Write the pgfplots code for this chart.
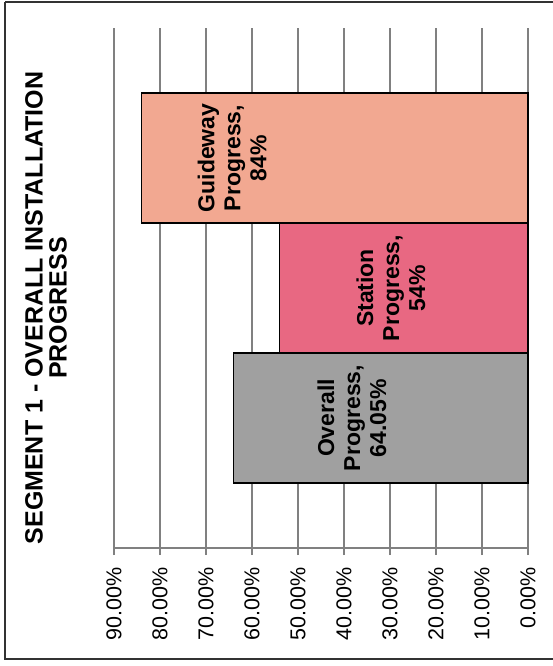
\documentclass[border=0pt]{standalone}
\usepackage{fontspec}
\setmainfont{Liberation Sans}
\usepackage{pgfplots}
\pgfplotsset{compat=1.18}
\definecolor{guide}{RGB}{242,168,145}
\definecolor{station}{RGB}{232,104,130}
\definecolor{overall}{RGB}{160,160,160}
\definecolor{gridc}{RGB}{128,128,128}
\definecolor{framec}{RGB}{50,50,50}
\begin{document}
\begin{tikzpicture}[x=1pt,y=1pt]
\useasboundingbox (0,0) rectangle (553,666);
\draw[framec, line width=2.5pt] (5,664) -- (5,7) -- (560,7);
\draw[framec, line width=2.5pt] (5,664) -- (560,664);
\node[rotate=90, align=center, font=\fontsize{25}{24}\selectfont\bfseries] at (46,358)
  {SEGMENT 1 - OVERALL INSTALLATION\\PROGRESS};
\begin{axis}[
  at={(114pt,118pt)}, anchor=south west,
  scale only axis, width=414pt, height=520pt,
  x dir=reverse,
  xmin=0, xmax=90, ymin=-1, ymax=3,
  axis x line*=bottom, axis y line=none,
  x axis line style={gridc, line width=1.4pt},
  xtick={0,10,...,90}, ytick=\empty,
  tick align=outside, major tick length=7pt,
  xtick style={gridc, line width=1.4pt},
  xmajorgrids, major grid style={gridc, line width=1.4pt},
  /pgf/number format/assume math mode=true,
  xticklabel={\pgfmathprintnumber[fixed,fixed zerofill,precision=2]{\tick}\%},
  xticklabel style={rotate=90, anchor=east, font=\fontsize{21.5}{21}\selectfont},
  xticklabel shift=9pt,
  clip=false,
]
\addplot[xbar, bar shift=0pt, bar width=130pt, fill=overall, draw=black, line width=1.4pt] coordinates {(64.05,0)};
\addplot[xbar, bar shift=0pt, bar width=130pt, fill=station, draw=black, line width=1.4pt] coordinates {(54,1)};
\addplot[xbar, bar shift=0pt, bar width=130pt, fill=guide, draw=black, line width=1.4pt] coordinates {(84,2)};
\node[rotate=90, align=center, font=\fontsize{23}{26}\selectfont\bfseries] at (axis cs:38.3,0) {Overall\\Progress,\\64.05\%};
\node[rotate=90, align=center, font=\fontsize{23}{26}\selectfont\bfseries] at (axis cs:29.8,1) {Station\\Progress,\\54\%};
\node[rotate=90, align=center, font=\fontsize{23}{26}\selectfont\bfseries] at (axis cs:64.3,2) {Guideway\\Progress,\\84\%};
\end{axis}
\end{tikzpicture}
\end{document}
